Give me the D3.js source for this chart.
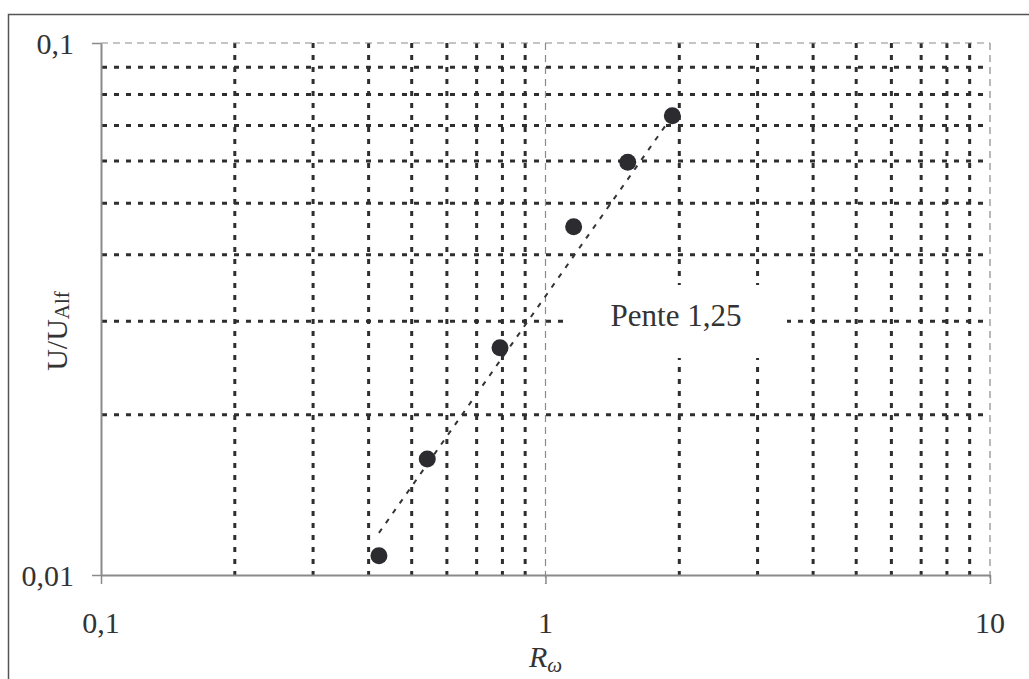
<!DOCTYPE html>
<html><head><meta charset="utf-8">
<script src="https://cdn.jsdelivr.net/npm/d3@7/dist/d3.min.js"></script>
<style>body{margin:0;background:#fff;}svg{display:block;font-family:"Liberation Serif","Times New Roman",serif;}</style>
</head><body><svg id="c" width="1029" height="679"></svg>
<script>
// Data
const ptsX = [0.422, 0.542, 0.790, 1.157, 1.531, 1.929];
const ptsY = [0.01087, 0.01652, 0.02675, 0.04516, 0.0597, 0.0730];
const trendX = [0.422, 1.95];
const trendY = [0.0120, 0.0739];
const xMajorTicks = [0.1, 1, 10];
const xTickLabels = ["0,1", "1", "10"];
const yMajorTicks = [0.01, 0.1];
const yTickLabels = ["0,01", "0,1"];
const xMinorTicks = [0.2,0.3,0.4,0.5,0.6,0.7,0.8,0.9,2,3,4,5,6,7,8,9];
const yMinorTicks = [0.02,0.03,0.04,0.05,0.06,0.07,0.08,0.09];
const annotation = "Pente 1,25";

const svg = d3.select("#c");
const L = 101, R = 990, T = 43, B = 575;
const x = d3.scaleLog().domain([0.1, 10]).range([L, R]);
const y = d3.scaleLog().domain([0.01, 0.1]).range([B, T]);

// outer frame
svg.append("rect").attr("x", 8.5).attr("y", 14.5).attr("width", 1040).attr("height", 700)
  .attr("fill", "none").attr("stroke", "#555").attr("stroke-width", 1.5);

const minorStyle = s => s.attr("stroke", "#2e2e2e").attr("stroke-width", 3).attr("stroke-dasharray", "5,7");
const majorStyle = s => s.attr("stroke", "#8a8a8a").attr("stroke-width", 1.2).attr("stroke-dasharray", "7,5");

// minor gridlines
svg.append("g").selectAll("line").data(yMinorTicks).join("line")
  .attr("x1", L + 1).attr("x2", R).attr("y1", d => y(d)).attr("y2", d => y(d)).call(minorStyle);
svg.append("g").selectAll("line").data(xMinorTicks).join("line")
  .attr("y1", T).attr("y2", B).attr("x1", d => x(d)).attr("x2", d => x(d)).call(minorStyle);

// major gridlines
svg.append("g").selectAll("line").data(xMajorTicks.slice(1)).join("line")
  .attr("y1", T).attr("y2", B + 9).attr("x1", d => x(d)).attr("x2", d => x(d)).call(majorStyle);
svg.append("g").selectAll("line").data(yMajorTicks.slice(1)).join("line")
  .attr("x1", L).attr("x2", R).attr("y1", d => y(d)).attr("y2", d => y(d)).call(majorStyle);

// label box (white background)
svg.append("rect").attr("x", 563).attr("y", 285).attr("width", 224).attr("height", 73).attr("fill", "#fff");
svg.append("text").attr("x", 676).attr("y", 326).attr("text-anchor", "middle")
  .attr("font-size", 31).attr("fill", "#333").text(annotation);

// axes
const yAxis = d3.axisLeft(y).tickValues(yMajorTicks).tickSize(9).tickSizeOuter(0).tickFormat(() => "");
const ga = svg.append("g").attr("transform", `translate(${L},0)`).call(yAxis);
const xAxis = d3.axisBottom(x).tickValues(xMajorTicks).tickSize(9).tickSizeOuter(0).tickFormat(() => "");
const gb = svg.append("g").attr("transform", `translate(0,${B})`).call(xAxis);
[ga, gb].forEach(g => {
  g.select(".domain").attr("stroke", "#8a8a8a").attr("stroke-width", 2);
  g.selectAll(".tick line").attr("stroke", "#8a8a8a").attr("stroke-width", 1.5);
});

// tick labels
svg.append("g").selectAll("text").data(yMajorTicks).join("text")
  .attr("x", 74).attr("y", d => y(d) + 11).attr("text-anchor", "end")
  .attr("font-size", 30).attr("fill", "#333").text((d, i) => yTickLabels[i]);
svg.append("g").selectAll("text").data(xMajorTicks).join("text")
  .attr("x", d => x(d)).attr("y", 633).attr("text-anchor", "middle")
  .attr("font-size", 30).attr("fill", "#333").text((d, i) => xTickLabels[i]);

// trend line
const line = d3.line().x(d => x(d[0])).y(d => y(d[1]));
svg.append("path").datum(trendX.map((v, i) => [v, trendY[i]])).attr("d", line)
  .attr("fill", "none").attr("stroke", "#333").attr("stroke-width", 2).attr("stroke-dasharray", "5,7");

// points
svg.append("g").selectAll("circle").data(ptsX.map((v, i) => [v, ptsY[i]])).join("circle")
  .attr("cx", d => x(d[0])).attr("cy", d => y(d[1])).attr("r", 8.5).attr("fill", "#2b2b30");

// axis titles
const xt = svg.append("text").attr("x", 529).attr("y", 667).attr("font-size", 30).attr("fill", "#333");
xt.append("tspan").attr("font-style", "italic").text("R");
xt.append("tspan").attr("font-style", "italic").attr("font-size", 21).attr("dy", 5).text("ω");

const yt = svg.append("text").attr("transform", "translate(67,331) rotate(-90)")
  .attr("text-anchor", "middle").attr("font-size", 30).attr("fill", "#333");
yt.append("tspan").text("U/U");
yt.append("tspan").attr("font-size", 21).attr("dy", 2).text("Alf");
</script></body></html>
